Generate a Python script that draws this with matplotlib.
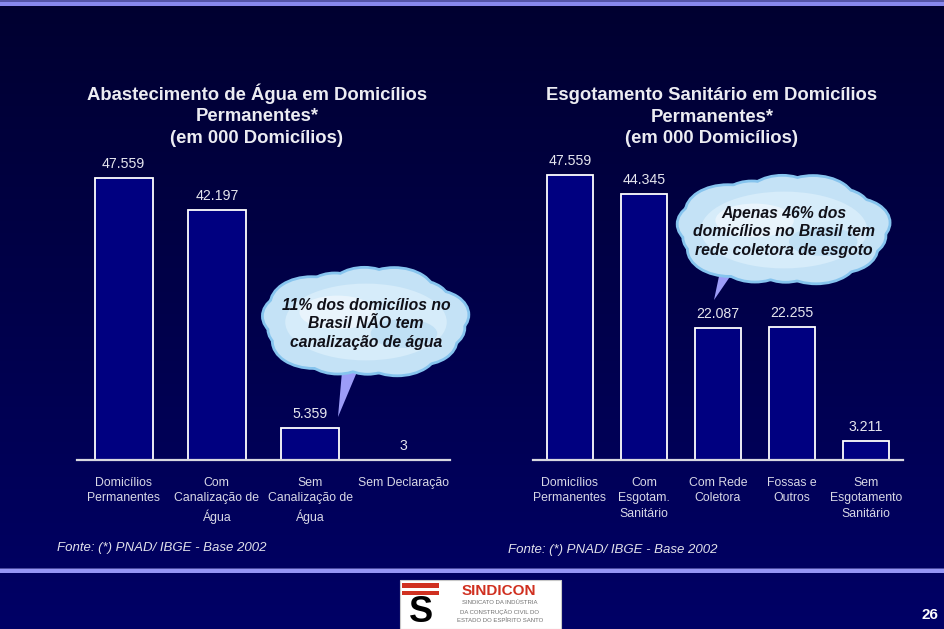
import numpy as np
import matplotlib.pyplot as plt
from matplotlib.patches import Ellipse, Polygon, Rectangle

plt.rcParams['font.family'] = ['Liberation Sans', 'DejaVu Sans']

# dados (em 000 domicílios)
agua_cats = ["Domicílios\nPermanentes", "Com\nCanalização de\nÁgua",
             "Sem\nCanalização de\nÁgua", "Sem Declaração"]
agua_vals = [47559, 42197, 5359, 3]

esgoto_cats = ["Domicílios\nPermanentes", "Com\nEsgotam.\nSanitário",
               "Com Rede\nColetora", "Fossas e\nOutros", "Sem\nEsgotamento\nSanitário"]
esgoto_vals = [47559, 44345, 22087, 22255, 3211]

titulo_agua = "Abastecimento de Água em Domicílios\nPermanentes*\n(em 000 Domicílios)"
titulo_esgoto = "Esgotamento Sanitário em Domicílios\nPermanentes*\n(em 000 Domicílios)"
fonte = "Fonte: (*) PNAD/ IBGE - Base 2002"
nuvem_agua = "11% dos domicílios no\nBrasil NÃO tem\ncanalização de água"
nuvem_esgoto = "Apenas 46% dos\ndomicílios no Brasil tem\nrede coletora de esgoto"

W, H = 945, 629
fig = plt.figure(figsize=(W / 100, H / 100), dpi=100)

# fundo em degradê
bg = fig.add_axes([0, 0, 1, 1], zorder=0)
grad = np.linspace(0, 1, 256).reshape(-1, 1)
c_top = np.array([0, 0, 0x30]) / 255
c_bot = np.array([0, 0, 0x66]) / 255
img = c_top + grad[:, :, None] * (c_bot - c_top)
bg.imshow(img, extent=[0, W, H, 0], aspect='auto')
bg.set_xlim(0, W)
bg.set_ylim(H, 0)
bg.axis('off')
# faixas
bg.add_patch(Rectangle((0, 0), W, 2, color='#5555A8', lw=0))
bg.add_patch(Rectangle((0, 2), W, 4, color='#8888EE', lw=0))
bg.add_patch(Rectangle((0, 567.5), W, 1.8, color='#4A4AA0', lw=0))
bg.add_patch(Rectangle((0, 569.3), W, 4, color='#9595F5', lw=0))


def px_axes(x0, x1, y_base, height):
    return fig.add_axes([x0 / W, (H - y_base) / H, (x1 - x0) / W, height / H], zorder=1)


def grafico(ax, cats, vals, ytop, width):
    x = np.arange(len(cats))
    ax.bar(x, vals, width=width, color='#000080', edgecolor='white', linewidth=1.3)
    for xi, v in zip(x, vals):
        ax.annotate(f"{v:,}".replace(",", "."), (xi, v), xytext=(0, 5),
                    textcoords='offset points', ha='center', va='bottom',
                    fontsize=10.2, color='#E6E6EE')
    ax.set_xlim(-0.5, len(cats) - 0.5)
    ax.set_ylim(0, ytop)
    ax.set_facecolor('none')
    for s in ['top', 'left', 'right']:
        ax.spines[s].set_visible(False)
    ax.spines['bottom'].set_color('#D8D8E0')
    ax.spines['bottom'].set_linewidth(1.6)
    ax.set_yticks([])
    ax.set_xticks(x)
    ax.set_xticklabels(cats, fontsize=8.8, color='#D8D8E6', linespacing=1.42)
    ax.tick_params(axis='x', length=0, pad=12)


ax1 = px_axes(77, 450, 460, 326)
grafico(ax1, agua_cats, agua_vals, 47559 * 326 / 282, 0.62)
ax2 = px_axes(533, 903, 460, 326)
grafico(ax2, esgoto_cats, esgoto_vals, 47559 * 326 / 285, 0.63)

fig.text(257 / W, 1 - 115 / H, titulo_agua, ha='center', va='center', fontsize=13.3,
         fontweight='bold', color='#ECECF2', linespacing=1.36)
fig.text(712 / W, 1 - 117 / H, titulo_esgoto, ha='center', va='center', fontsize=13.3,
         fontweight='bold', color='#ECECF2', linespacing=1.36)
fig.text(57 / W, 1 - 548 / H, fonte, ha='left', va='center', fontsize=9.5,
         style='italic', color='#E0E0EA')
fig.text(508 / W, 1 - 550 / H, fonte, ha='left', va='center', fontsize=9.5,
         style='italic', color='#E0E0EA')

# camada de cima: nuvens, logo
ov = fig.add_axes([0, 0, 1, 1], zorder=3)
ov.set_xlim(0, W)
ov.set_ylim(H, 0)
ov.axis('off')
ov.patch.set_alpha(0)


def nuvem(cx, cy, w, h, tail, texto):
    ov.add_patch(Polygon(tail, closed=True, color='#9C9CF8', lw=0, zorder=1))
    bumps = []
    n = 14
    for i in range(n):
        a = 2 * np.pi * i / n + 0.2
        r = 0.32 + 0.05 * ((i * 7) % 3)
        bumps.append((cx + 0.72 * w / 2 * np.cos(a), cy + 0.62 * h / 2 * np.sin(a),
                      w * r, h * (r + 0.12)))
    for bx, by, bw, bh in bumps:
        ov.add_patch(Ellipse((bx, by), bw, bh, facecolor='none', edgecolor='#86C4EE',
                             lw=4, zorder=2))
    for bx, by, bw, bh in bumps:
        ov.add_patch(Ellipse((bx, by), bw, bh, facecolor='#C4E2F6', edgecolor='none',
                             zorder=3))
    ov.add_patch(Ellipse((cx, cy), w * 0.85, h * 0.8, facecolor='#D6ECFA',
                         edgecolor='none', zorder=3))
    ov.add_patch(Ellipse((cx - w * 0.15, cy - h * 0.1), w * 0.4, h * 0.35,
                         facecolor='#EEF7FD', edgecolor='none', zorder=3, alpha=0.8))
    ov.add_patch(Ellipse((cx + w * 0.2, cy + h * 0.12), w * 0.35, h * 0.3,
                         facecolor='#B8DBF3', edgecolor='none', zorder=3, alpha=0.7))
    ov.text(cx, cy + 2, texto, ha='center', va='center', fontsize=11.3,
            fontweight='bold', style='italic', color='#101018', linespacing=1.3, zorder=4)


nuvem(366, 322, 190, 96, [(343, 360), (362, 360), (338, 417)], nuvem_agua)
nuvem(784, 230, 196, 96, [(722, 262), (740, 262), (714, 300)], nuvem_esgoto)

# logo SINDICON
ov.add_patch(Rectangle((400, 580), 161, 49, facecolor='white', edgecolor='#C8C8C8', lw=0.8))
ov.add_patch(Rectangle((402, 583), 37, 5, facecolor='#D03020', lw=0))
ov.add_patch(Rectangle((402, 591), 37, 4, facecolor='#D03020', lw=0))
ov.text(421, 612, "S", ha='center', va='center', fontsize=26, fontweight='bold',
        color='black')
ov.text(499, 591, "SINDICON", ha='center', va='center', fontsize=11, fontweight='bold',
        color='#D03020')
ov.text(500, 603, "SINDICATO DA INDÚSTRIA", ha='center', va='center', fontsize=4.3,
        color='#707070')
ov.text(500, 612, "DA CONSTRUÇÃO CIVIL DO", ha='center', va='center', fontsize=4.3,
        color='#707070')
ov.text(500, 621, "ESTADO DO ESPÍRITO SANTO", ha='center', va='center', fontsize=4.3,
        color='#707070')

ov.text(930, 615, "26", ha='center', va='center', fontsize=11, fontweight='bold',
        color='white')

fig.savefig('out.png', dpi=100)
